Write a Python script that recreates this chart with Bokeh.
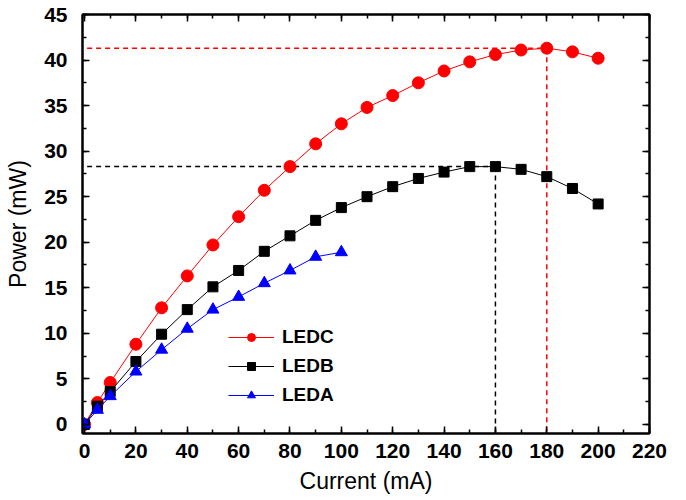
from bokeh.plotting import figure
from bokeh.models import Range1d, LinearAxis, SingleIntervalTicker, Legend, LegendItem, CustomJSTickFormatter
from bokeh.embed import file_html
from bokeh.resources import INLINE

# ---- data ----
x_c = [0, 5, 10, 20, 30, 40, 50, 60, 70, 80, 90, 100, 110, 120, 130, 140, 150, 160, 170, 180, 190, 200]
ledc = [0, 2.4, 4.6, 8.8, 12.8, 16.3, 19.7, 22.8, 25.7, 28.3, 30.8, 33.0, 34.8, 36.1, 37.5, 38.8, 39.8, 40.6, 41.1, 41.3, 40.9, 40.2]
ledb = [0, 2.0, 3.6, 6.9, 9.9, 12.6, 15.1, 16.9, 19.0, 20.7, 22.4, 23.8, 25.0, 26.1, 27.0, 27.7, 28.3, 28.3, 28.0, 27.2, 25.9, 24.2]
x_a = [0, 5, 10, 20, 30, 40, 50, 60, 70, 80, 90, 100]
leda = [0, 1.6, 3.1, 5.8, 8.2, 10.5, 12.6, 14.0, 15.5, 16.9, 18.4, 18.9]

peak_c_x, peak_c_y = 180, 41.3
peak_b_x, peak_b_y = 160, 28.3
dash_start_x = 1
y_min, y_max = -1, 45
x_min, x_max = -0.8, 220

FONT = "Liberation Sans"

p = figure(frame_width=567, frame_height=419, output_backend="svg", toolbar_location=None,
           x_range=Range1d(x_min, x_max), y_range=Range1d(y_min, y_max),
           min_border_left=82, min_border_right=18, min_border_top=14, min_border_bottom=51)
p.background_fill_color = "white"
p.border_fill_color = "white"
p.xgrid.visible = False
p.ygrid.visible = False
p.outline_line_color = "black"
p.outline_line_width = 2

xt = SingleIntervalTicker(interval=20, num_minor_ticks=2)
yt = SingleIntervalTicker(interval=5, num_minor_ticks=2)

p.xaxis.ticker = xt
p.yaxis.ticker = yt
p.xaxis.axis_label = "Current (mA)"
p.yaxis.axis_label = "Power (mW)"

for ax in (p.xaxis[0], p.yaxis[0]):
    ax.axis_line_width = 2
    ax.major_tick_in = 7
    ax.major_tick_out = 0
    ax.minor_tick_in = 4
    ax.minor_tick_out = 0
    ax.major_tick_line_width = 1.5
    ax.minor_tick_line_width = 1.5
    ax.major_label_text_font = FONT
    ax.major_label_text_font_style = "bold"
    ax.major_label_text_font_size = "21px"
    ax.major_label_text_color = "black"
    ax.axis_label_text_font = FONT
    ax.axis_label_text_font_style = "normal"
    ax.axis_label_text_font_size = "23px"
    ax.axis_label_text_color = "black"

p.xaxis.major_label_standoff = 10
p.xaxis.axis_label_standoff = 7
p.yaxis.major_label_standoff = 15
p.yaxis.axis_label_standoff = 10

blank = CustomJSTickFormatter(code="return ''")
# mirrored axes (ticks only)
top = LinearAxis(ticker=xt, formatter=blank, major_label_standoff=0,
                 axis_line_width=2, major_tick_in=7, major_tick_out=0, minor_tick_in=4, minor_tick_out=0,
                 major_tick_line_width=1.5, minor_tick_line_width=1.5)
right = LinearAxis(ticker=yt, formatter=blank, major_label_standoff=0,
                   axis_line_width=2, major_tick_in=7, major_tick_out=0, minor_tick_in=4, minor_tick_out=0,
                   major_tick_line_width=1.5, minor_tick_line_width=1.5)
p.add_layout(top, "above")
p.add_layout(right, "right")

# dashed guide lines
p.line([dash_start_x, peak_c_x], [peak_c_y, peak_c_y], line_color="red", line_dash="5 4", line_width=1.5)
p.line([peak_c_x, peak_c_x], [peak_c_y, y_min], line_color="red", line_dash="5 4", line_width=1.5)
p.line([dash_start_x, peak_b_x], [peak_b_y, peak_b_y], line_color="black", line_dash="5 4", line_width=1.5)
p.line([peak_b_x, peak_b_x], [peak_b_y, y_min], line_color="black", line_dash="5 4", line_width=1.5)

# series
lc = p.line(x_c, ledc, line_color="red", line_width=1)
sc = p.scatter(x_c, ledc, marker="circle", size=12, fill_color="red", line_color="red")
lb = p.line(x_c, ledb, line_color="black", line_width=1)
sb = p.scatter(x_c, ledb, marker="square", size=10, fill_color="black", line_color="black")
la = p.line(x_a, leda, line_color="blue", line_width=1)
sa = p.scatter(x_a, leda, marker="triangle", size=12, fill_color="blue", line_color="blue")

legend = Legend(items=[
    LegendItem(label="LEDC", renderers=[lc, sc]),
    LegendItem(label="LEDB", renderers=[lb, sb]),
    LegendItem(label="LEDA", renderers=[la, sa]),
], location=(146, 27))
legend.border_line_color = None
legend.background_fill_alpha = 0
legend.padding = 0
legend.margin = 0
legend.spacing = 7
legend.glyph_width = 46
legend.glyph_height = 20
legend.label_height = 20
legend.label_standoff = 8
legend.label_text_font = FONT
legend.label_text_font_style = "bold"
legend.label_text_font_size = "19px"
legend.label_text_color = "black"
p.add_layout(legend, "center")

open("out.html", "w").write(file_html(p, INLINE))
